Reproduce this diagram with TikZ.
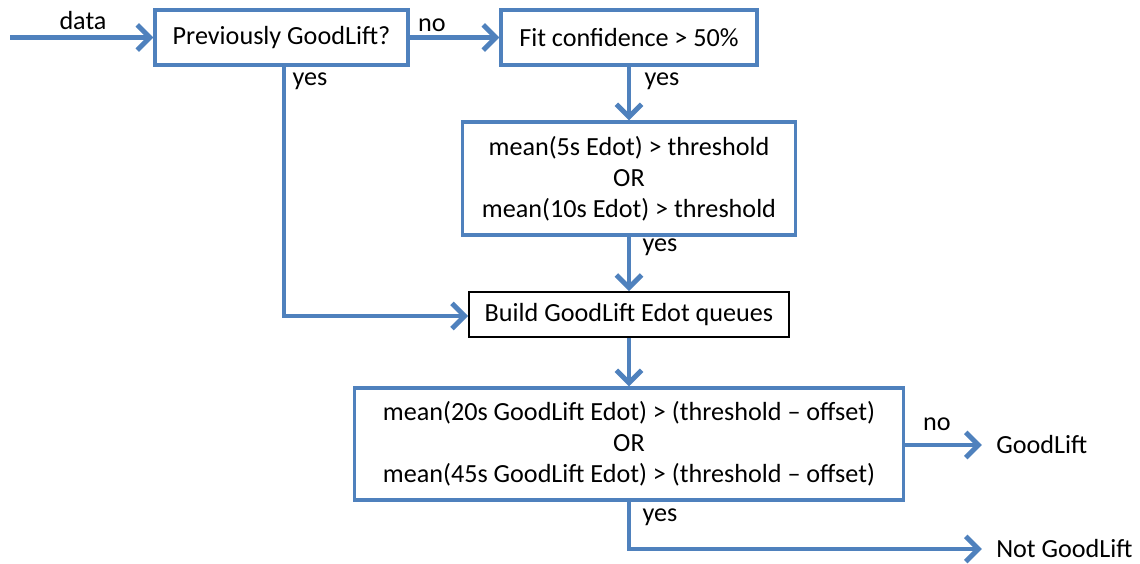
\documentclass[tikz,border=0pt]{standalone}
\usepackage{fontspec}
\setmainfont{Carlito}
\usetikzlibrary{arrows.meta}

\definecolor{flowblue}{RGB}{79,129,189}

\tikzset{
  flowbox/.style={draw=flowblue, line width=2.2pt, fill=white, align=center, inner sep=0pt},
  plainbox/.style={draw=black, line width=1.3pt, fill=white, align=center, inner sep=0pt},
  flowarrow/.style={draw=flowblue, line width=3.5pt, -{Straight Barb[length=9pt,width=18pt,line width=3.5pt]}},
  edgelabel/.style={inner sep=0pt}
}

\begin{document}
\begin{tikzpicture}[x=0.025cm, y=-0.025cm, font=\fontsize{18.6}{22}\selectfont]

\useasboundingbox (0,0) rectangle (1140,564);

% Decision boxes
\node[flowbox, minimum width=253*0.025cm, minimum height=55*0.025cm] (prev) at (281.5, 37.5) {Previously GoodLift?};
\node[flowbox, minimum width=256*0.025cm, minimum height=55*0.025cm] (fit) at (629, 37.5) {Fit confidence > 50\%};
\node[flowbox, minimum width=333*0.025cm, minimum height=113*0.025cm] (edot) at (629, 178.5) {mean(5s Edot) > threshold\\OR\\mean(10s Edot) > threshold};
\node[plainbox, minimum width=320*0.025cm, minimum height=45*0.025cm] (queues) at (629, 314.5) {Build GoodLift Edot queues};
\node[flowbox, minimum width=549*0.025cm, minimum height=112*0.025cm] (final) at (629, 444) {mean(20s GoodLift Edot) > (threshold -- offset)\\OR\\mean(45s GoodLift Edot) > (threshold -- offset)};

% Outcomes
\node[anchor=west, inner sep=0pt] (good) at (996, 445) {GoodLift};
\node[anchor=west, inner sep=0pt] (notgood) at (996, 549) {Not GoodLift};

% Free ends and bends
\coordinate (in) at (10, 37.5);
\coordinate (corner1) at (284, 316);
\coordinate (corner2) at (629, 549);

% Connectors
\draw[flowarrow] (in) -- (prev.west);
\draw[flowarrow] (prev.east) -- (fit.west);
\draw[flowarrow] (fit.south) -- (edot.north);
\draw[flowarrow] (edot.south) -- (queues.north);
\draw[flowarrow] (queues.south) -- (final.north);
\draw[flowarrow] (corner1 |- prev.south) -- (corner1) -- (queues.west |- corner1);
\draw[flowarrow, shorten >=10pt] (final.east |- good) -- (good.west);
\draw[flowarrow, shorten >=10pt] (final.south) -- (corner2) -- (notgood.west);

% Labels
\node[edgelabel] (ldata) at (83, 21) {data};
\node[edgelabel] (lno1) at (432, 25) {no};
\node[edgelabel] (lyes1) at (310, 81) {yes};
\node[edgelabel] (lyes2) at (662, 81) {yes};
\node[edgelabel] (lyes3) at (660, 247) {yes};
\node[edgelabel] (lno2) at (937, 424) {no};
\node[edgelabel] (lyes4) at (660, 517) {yes};

\end{tikzpicture}
\end{document}
